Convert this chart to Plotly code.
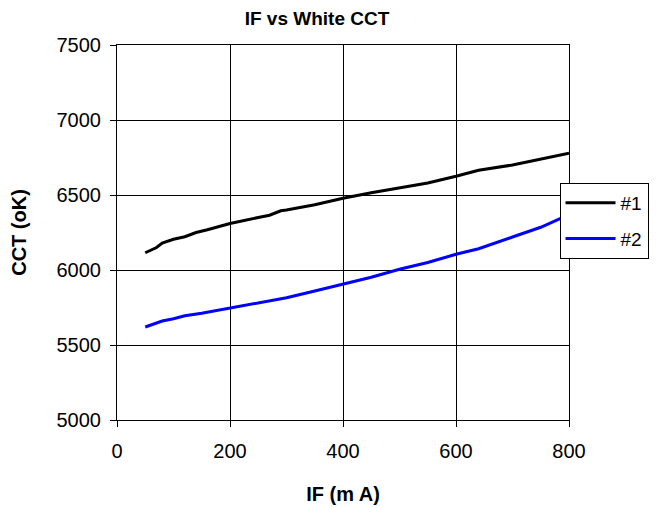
import plotly.graph_objects as go

x1 = [50, 70, 80, 100, 120, 140, 160, 200, 250, 270, 290, 300, 350, 400, 450, 500, 550, 600, 640, 700, 750, 800]
y1 = [6115, 6150, 6180, 6205, 6222, 6250, 6268, 6310, 6350, 6365, 6395, 6400, 6435, 6478, 6515, 6545, 6580, 6625, 6665, 6700, 6740, 6778]
x2 = [50, 70, 80, 100, 120, 150, 200, 250, 290, 300, 350, 400, 450, 500, 550, 600, 640, 700, 750, 800]
y2 = [5620, 5645, 5660, 5675, 5695, 5712, 5745, 5780, 5808, 5815, 5860, 5905, 5952, 6005, 6050, 6105, 6142, 6220, 6285, 6370]
names = ["#1", "#2"]
colors = ["black", "#0000ff"]

fig = go.Figure()
fig.add_trace(go.Scatter(x=x1, y=y1, mode="lines", name=names[0], legendgroup="a",
                         line=dict(color=colors[0], width=3)))
fig.add_trace(go.Scatter(x=x2, y=y2, mode="lines", name=names[1], legendgroup="b",
                         line=dict(color=colors[1], width=3)))

font = "Liberation Sans, Arial, sans-serif"
fig.update_layout(
    width=665, height=508,
    margin=dict(l=109, r=104, t=37, b=96),
    paper_bgcolor="white", plot_bgcolor="white",
    font=dict(family=font, size=20, color="black"),
    title=dict(text="<b>IF vs White CCT</b>", x=0.4647, xref="container", xanchor="center",
               y=0.993, yref="container", yanchor="top", font=dict(size=19)),
    xaxis=dict(range=[0, 800], tickvals=[0, 200, 400, 600, 800], showgrid=True, gridcolor="black", gridwidth=1,
               showline=True, linecolor="black", linewidth=1, mirror=True, ticks="outside", ticklen=6,
               tickcolor="black", zeroline=False, ticklabelstandoff=7, automargin=False,
               title=dict(text="<b>IF (m A)</b>", font=dict(size=20), standoff=25)),
    yaxis=dict(range=[5000, 7500], dtick=500, showgrid=True, gridcolor="black", gridwidth=1,
               showline=True, linecolor="black", linewidth=1, mirror=True, ticks="outside", ticklen=6,
               tickcolor="black", zeroline=False, ticklabelstandoff=5, automargin=False,
               title=dict(text="<b>CCT (oK)</b>", font=dict(size=20), standoff=25)),
    legend=dict(x=0.979, y=0.632, xanchor="left", yanchor="top", bordercolor="black", borderwidth=1,
                bgcolor="white", font=dict(size=19), itemwidth=50, tracegroupgap=8),
    showlegend=True,
)

fig.write_html("out.html")
